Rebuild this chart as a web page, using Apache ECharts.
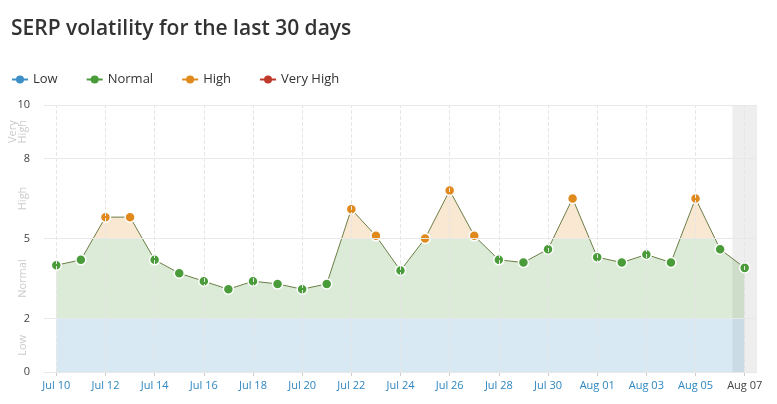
<!DOCTYPE html>
<html><head><meta charset="utf-8">
<script src="https://cdn.jsdelivr.net/npm/echarts@6/dist/echarts.min.js"></script>
<style>html,body{margin:0;padding:0;background:#fff}#c{width:777px;height:404px}</style>
</head><body><div id="c"></div>
<script>
const dates = ['Jul 10','Jul 11','Jul 12','Jul 13','Jul 14','Jul 15','Jul 16','Jul 17','Jul 18','Jul 19','Jul 20','Jul 21','Jul 22','Jul 23','Jul 24','Jul 25','Jul 26','Jul 27','Jul 28','Jul 29','Jul 30','Jul 31','Aug 01','Aug 02','Aug 03','Aug 04','Aug 05','Aug 06','Aug 07'];
const scores = [4.0,4.2,5.8,5.8,4.2,3.7,3.4,3.1,3.4,3.3,3.1,3.3,6.1,5.1,3.8,5.0,6.8,5.1,4.2,4.1,4.6,6.5,4.3,4.1,4.4,4.1,6.5,4.6,3.9];
const yTicks = [0,2,5,8,10];
const xTickIdx = [0,2,4,6,8,10,12,14,16,18,20,22,24,26,28];
const bandLabels = {1:'Low',3.5:'Normal',6.5:'High',9:'Very\nHigh'};
const levelNames = ['Low','Normal','High','Very High'];
const levelColors = ['#3d8fc6','#4a9b3a','#e08a1e','#c0392b'];

const pts = scores.map((v,i)=>[i,v]);
const colorOf = v => v>=8?levelColors[3]:v>=5?levelColors[2]:v>=2?levelColors[1]:levelColors[0];
const chart = echarts.init(document.getElementById('c'));
chart.setOption({
  animation:false,
  title:{text:'SERP volatility for the last 30 days',left:6,top:14,textStyle:{fontFamily:'Open Sans',fontSize:21,fontWeight:600,color:'#333'}},
  legend:{left:6,top:68,itemGap:28,itemWidth:16,itemHeight:10,textStyle:{fontFamily:'Open Sans',fontSize:13,color:'#333'},data:levelNames},
  grid:{left:44,right:20,top:105,bottom:32},
  visualMap:{show:false,seriesIndex:0,dimension:1,pieces:[{lt:2,color:levelColors[0]},{gte:2,lt:5,color:levelColors[1]},{gte:5,lt:8,color:levelColors[2]},{gte:8,color:levelColors[3]}]},
  xAxis:{type:'value',min:-0.5,max:28.5,
    axisLine:{show:false},
    axisTick:{show:true,length:4,customValues:xTickIdx,lineStyle:{color:'#ccc'}},
    splitLine:{show:false},
    axisLabel:{fontFamily:'Open Sans',fontSize:11,customValues:xTickIdx,
      formatter:v=>{const i=Math.round(v);return dates[i]?(i===28?'{d|'+dates[i]+'}':dates[i]):'';},
      color:'#2e86c1',rich:{d:{color:'#444',fontFamily:'Open Sans',fontSize:11}}}},
  yAxis:[
    {type:'value',min:0,max:10,interval:1,splitLine:{show:false},axisLine:{show:false},axisTick:{show:false},
     axisLabel:{fontFamily:'Open Sans',fontSize:11,color:'#444',margin:14,formatter:v=>yTicks.includes(v)?String(v):''}},
    {type:'value',min:0,max:10,interval:0.5,position:'left',splitLine:{show:false},axisLine:{show:false},axisTick:{show:false},
     axisLabel:{fontFamily:'Open Sans',fontSize:11,color:'#ccc',rotate:90,margin:16,lineHeight:10,formatter:v=>bandLabels[v]||''}}
  ],
  series:[
    {type:'line',data:pts,symbol:'none',lineStyle:{width:0},areaStyle:{opacity:0.2},z:1,silent:true,
     markArea:{silent:true,itemStyle:{color:'rgba(200,200,200,0.3)'},data:[[{xAxis:27.5},{xAxis:28.5}]]},
     markLine:{silent:true,symbol:'none',label:{show:false},lineStyle:{color:'#e6e6e6',type:'dashed',width:1},data:xTickIdx.map(i=>({xAxis:i}))}},
    {type:'line',data:pts,symbol:'circle',symbolSize:10,z:3,
     lineStyle:{color:'#6b7d45',width:1},
     itemStyle:{color:p=>colorOf(p.value[1]),borderColor:'#fff',borderWidth:1.5},
     markLine:{silent:true,symbol:'none',label:{show:false},lineStyle:{color:'#e8e8e8',type:'solid',width:1},data:[{yAxis:0},{yAxis:2},{yAxis:5},{yAxis:8},{yAxis:10}]}},
    ...levelNames.map((n,i)=>({name:n,type:'line',data:[],symbol:'circle',symbolSize:8,itemStyle:{color:levelColors[i]},lineStyle:{color:levelColors[i]}}))
  ]
});
</script></body></html>
